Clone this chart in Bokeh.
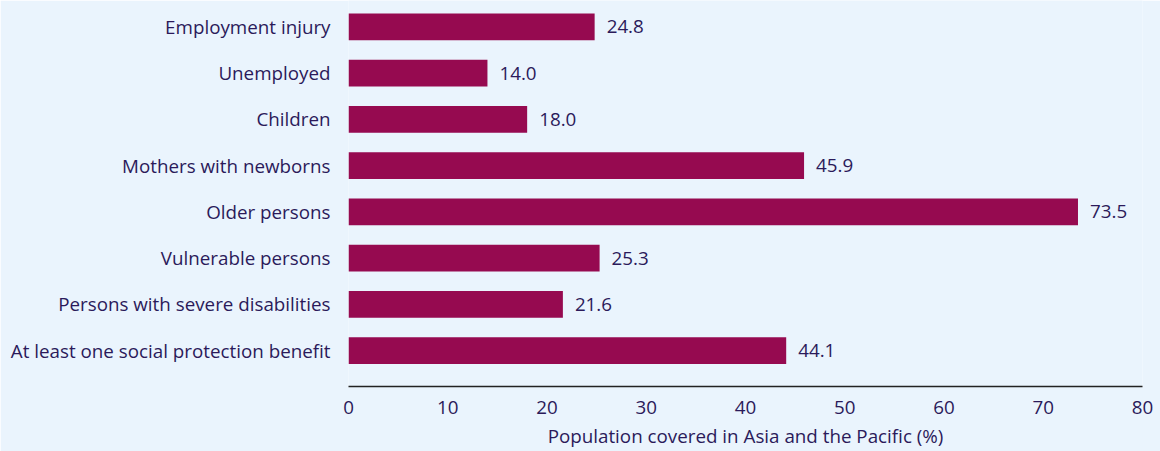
from bokeh.plotting import figure
from bokeh.models import Range1d, FixedTicker, ColumnDataSource
from bokeh.core.properties import value
from bokeh.embed import file_html
from bokeh.resources import INLINE

categories = [
    "Employment injury",
    "Unemployed",
    "Children",
    "Mothers with newborns",
    "Older persons",
    "Vulnerable persons",
    "Persons with severe disabilities",
    "At least one social protection benefit",
]
coverage = [24.8, 14.0, 18.0, 45.9, 73.5, 25.3, 21.6, 44.1]
x_ticks = [0, 10, 20, 30, 40, 50, 60, 70, 80]

BG = "#EAF4FD"
BAR = "#960A50"
TXT = "#2B1A5A"
FONT = "Open Sans"
FS = "18.8px"

n = len(categories)
ypos = [n - 1 - i for i in range(n)]
src = ColumnDataSource(dict(
    y=ypos,
    v=coverage,
    lab=[f"{v:.1f}" for v in coverage],
))

p = figure(width=1160, height=451, output_backend="svg", toolbar_location=None,
           x_range=Range1d(0, 80), y_range=Range1d(-0.775, 7.571),
           background_fill_color=BG, border_fill_color=BG,
           min_border_left=348, min_border_right=18, min_border_top=0,
           min_border_bottom=64, outline_line_color=None)

p.hbar(y="y", right="v", left=0, height=0.58, source=src,
       fill_color=BAR, line_color=None)
p.text(x="v", y="y", text="lab", source=src, x_offset=12,
       text_baseline="middle", text_align="left",
       text_font=value(FONT), text_font_size=FS, text_color=TXT)

p.xgrid.visible = False
p.ygrid.visible = False

xa = p.xaxis[0]
xa.ticker = FixedTicker(ticks=x_ticks)
xa.axis_line_color = "#222222"
xa.axis_line_width = 1.5
xa.major_tick_line_color = None
xa.minor_tick_line_color = None
xa.major_tick_out = 0
xa.major_label_standoff = 14
xa.major_label_text_font = FONT
xa.major_label_text_font_size = FS
xa.major_label_text_color = TXT
xa.axis_label = "Population covered in Asia and the Pacific (%)"
xa.axis_label_text_font = FONT
xa.axis_label_text_font_size = FS
xa.axis_label_text_font_style = "normal"
xa.axis_label_text_color = TXT
xa.axis_label_standoff = 6

ya = p.yaxis[0]
ya.ticker = FixedTicker(ticks=ypos)
ya.major_label_overrides = {y: c for y, c in zip(ypos, categories)}
ya.axis_line_color = None
ya.major_tick_line_color = None
ya.minor_tick_line_color = None
ya.major_tick_out = 0
ya.major_label_standoff = 18
ya.major_label_text_font = FONT
ya.major_label_text_font_size = FS
ya.major_label_text_color = TXT

open("out.html", "w").write(file_html(p, INLINE))
